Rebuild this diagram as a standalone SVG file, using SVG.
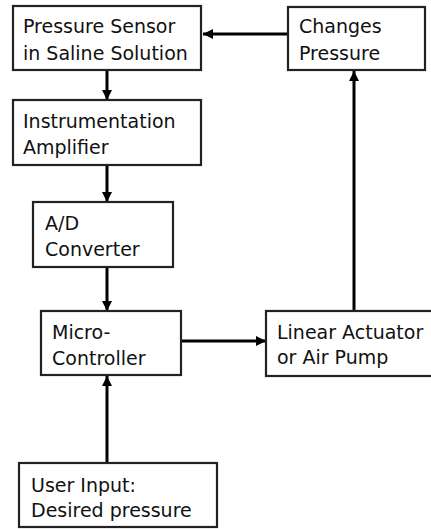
<svg xmlns="http://www.w3.org/2000/svg" width="431" height="529" viewBox="0 0 431 529">
<style>
.box{fill:#fff;stroke:#222;stroke-width:2.2}
.t{font-family:"DejaVu Sans",Verdana,sans-serif;font-size:19px;fill:#111}
.c{stroke:#000;stroke-width:3;fill:none}
</style>
<defs>
<marker id="ah" viewBox="0 0 10 10" refX="10" refY="5" markerWidth="10" markerHeight="10" markerUnits="userSpaceOnUse" orient="auto">
<path d="M0,0 L10,5 L0,10 z" fill="#000"/>
</marker>
</defs>
<rect width="431" height="529" fill="#fff"/>
<g id="connectors">
<line class="c" x1="288" y1="34" x2="203" y2="34" marker-end="url(#ah)"/>
<line class="c" x1="107" y1="70" x2="107" y2="100" marker-end="url(#ah)"/>
<line class="c" x1="107" y1="165" x2="107" y2="202" marker-end="url(#ah)"/>
<line class="c" x1="107" y1="267" x2="107" y2="311" marker-end="url(#ah)"/>
<line class="c" x1="181" y1="341" x2="266" y2="341" marker-end="url(#ah)"/>
<line class="c" x1="354" y1="311" x2="354" y2="71" marker-end="url(#ah)"/>
<line class="c" x1="107" y1="463" x2="107" y2="376" marker-end="url(#ah)"/>
</g>
<g id="pressure-sensor">
<rect class="box" x="13" y="6" width="188" height="64"/>
<text class="t" x="23" y="33">Pressure Sensor</text>
<text class="t" x="23" y="60">in Saline Solution</text>
</g>
<g id="changes-pressure">
<rect class="box" x="288" y="7" width="137" height="63"/>
<text class="t" x="299" y="33">Changes</text>
<text class="t" x="299" y="60">Pressure</text>
</g>
<g id="instrumentation-amplifier">
<rect class="box" x="13" y="100" width="188" height="65"/>
<text class="t" x="23" y="128">Instrumentation</text>
<text class="t" x="23" y="154">Amplifier</text>
</g>
<g id="ad-converter">
<rect class="box" x="33" y="202" width="140" height="65"/>
<text class="t" x="45" y="230">A/D</text>
<text class="t" x="45" y="256">Converter</text>
</g>
<g id="micro-controller">
<rect class="box" x="41" y="311" width="140" height="64"/>
<text class="t" x="52" y="339">Micro-</text>
<text class="t" x="52" y="365">Controller</text>
</g>
<g id="linear-actuator">
<rect class="box" x="266" y="311" width="170" height="65"/>
<text class="t" x="277" y="339">Linear Actuator</text>
<text class="t" x="277" y="364">or Air Pump</text>
</g>
<g id="user-input">
<rect class="box" x="19" y="463" width="198" height="64"/>
<text class="t" x="31" y="492">User Input:</text>
<text class="t" x="31" y="517">Desired pressure</text>
</g>
</svg>
